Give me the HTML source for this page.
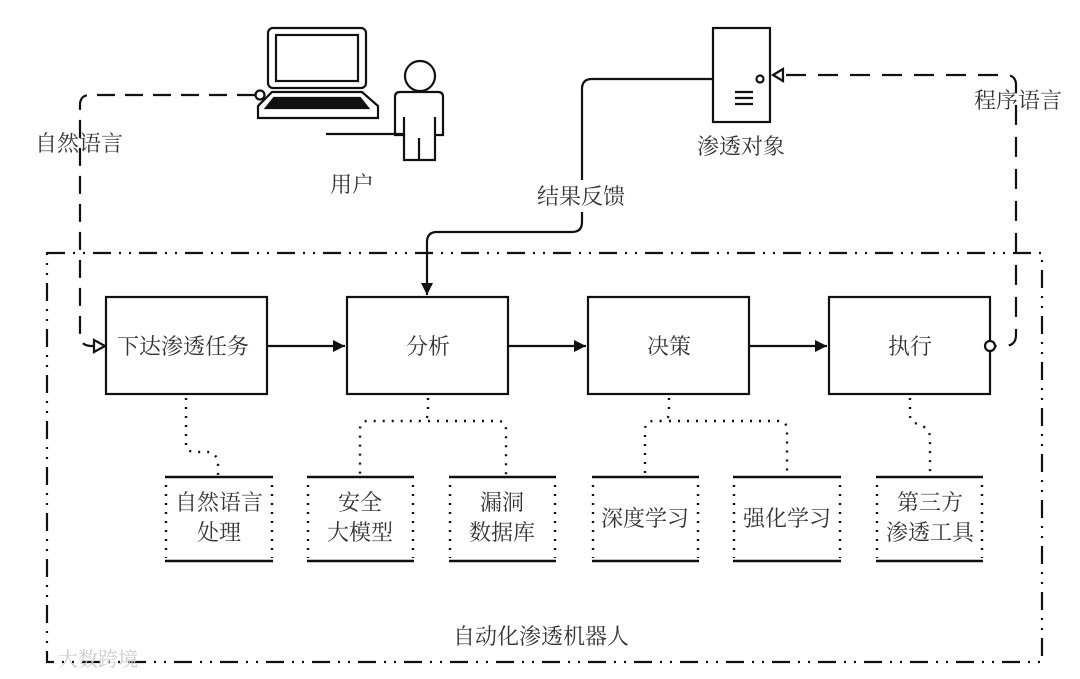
<!DOCTYPE html>
<html><head><meta charset="utf-8"><style>
html,body{margin:0;padding:0;background:#fff;}
svg{display:block;}
text{font-family:"Liberation Serif","Noto Serif CJK SC",serif;font-size:22px;fill:#333;}
</style></head><body>
<svg width="1080" height="679" viewBox="0 0 1080 679" xmlns="http://www.w3.org/2000/svg">
<defs>
<marker id="fa" markerWidth="14" markerHeight="14" refX="12" refY="6" orient="auto" markerUnits="userSpaceOnUse"><path d="M0,0 L12,6 L0,12 Z" fill="#111"/></marker>
</defs>
<g fill="none" stroke="#111" stroke-width="2.2">
<rect x="47" y="253" width="995" height="409" stroke-dasharray="18,8,2,8,2,8"/>
<rect x="106" y="297" width="161" height="97"/>
<rect x="347" y="297" width="161" height="97"/>
<rect x="588" y="297" width="161" height="97"/>
<rect x="829" y="297" width="161" height="97"/>
<line x1="267" y1="346" x2="345" y2="346" marker-end="url(#fa)"/>
<line x1="508" y1="346" x2="586" y2="346" marker-end="url(#fa)"/>
<line x1="749" y1="346" x2="827" y2="346" marker-end="url(#fa)"/>
<g stroke-width="2.5">
<line x1="165" y1="477" x2="273" y2="477"/><line x1="165" y1="561" x2="273" y2="561"/>
<line x1="307" y1="477" x2="414" y2="477"/><line x1="307" y1="561" x2="414" y2="561"/>
<line x1="449" y1="477" x2="556" y2="477"/><line x1="449" y1="561" x2="556" y2="561"/>
<line x1="592" y1="477" x2="699" y2="477"/><line x1="592" y1="561" x2="699" y2="561"/>
<line x1="733" y1="477" x2="841" y2="477"/><line x1="733" y1="561" x2="841" y2="561"/>
<line x1="876" y1="477" x2="983" y2="477"/><line x1="876" y1="561" x2="983" y2="561"/>
</g>
<g stroke-dasharray="2,7" stroke-width="2.4">
<line x1="166" y1="485" x2="166" y2="558"/><line x1="272" y1="485" x2="272" y2="558"/>
<line x1="308" y1="485" x2="308" y2="558"/><line x1="413" y1="485" x2="413" y2="558"/>
<line x1="450" y1="485" x2="450" y2="558"/><line x1="555" y1="485" x2="555" y2="558"/>
<line x1="593" y1="485" x2="593" y2="558"/><line x1="698" y1="485" x2="698" y2="558"/>
<line x1="734" y1="485" x2="734" y2="558"/><line x1="840" y1="485" x2="840" y2="558"/>
<line x1="877" y1="485" x2="877" y2="558"/><line x1="982" y1="485" x2="982" y2="558"/>
<path d="M186,398 L186,445 Q186,452 196,452 L210,452 Q218,455 218,465 L218,476"/>
<path d="M428,398 L428,412 Q428,421 420,421 L368,421 Q360,421 360,430 L360,476"/>
<path d="M428,421 L498,421 Q506,421 506,430 L506,476"/>
<path d="M669,398 L669,412 Q669,421 660,421 L654,421 Q645,421 645,430 L645,476"/>
<path d="M669,421 L778,421 Q787,421 787,430 L787,476"/>
<path d="M910,398 L910,415 Q910,422 918,424 Q930,428 930,438 L930,476"/>
</g>
<rect x="268" y="28" width="98" height="60" rx="5"/>
<rect x="276" y="35" width="82" height="46"/>
<path d="M272,92 L362,92 L378,106 L378,118 L258,118 L258,106 Z"/>
<path d="M274,98 L360,98 L368,108 L266,108 Z" fill="#111"/>
<circle cx="260" cy="95" r="4.5" fill="#fff"/>
<circle cx="420" cy="76" r="15"/>
<path d="M400,92 L438,92 Q443,92 443,97 L443,135 L435,135 L435,160 L404,160 L404,135 L395,135 L395,97 Q395,92 400,92 Z"/>
<line x1="404" y1="117" x2="404" y2="135"/><line x1="435" y1="117" x2="435" y2="135"/>
<line x1="419" y1="138" x2="419" y2="160"/>
<line x1="326" y1="134" x2="404" y2="134"/>
<rect x="713" y="28" width="57" height="94"/>
<circle cx="760" cy="79" r="3.5"/>
<line x1="735" y1="92" x2="753" y2="92"/><line x1="735" y1="98" x2="753" y2="98"/><line x1="735" y1="104" x2="753" y2="104"/>
<path d="M783,69 L773,75 L783,81 Z" fill="#fff"/>
<path d="M713,79 L592,79 Q582,79 582,89 L582,180"/>
<path d="M582,212 L582,222 Q582,232 572,232 L437,232 Q427,232 427,242 L427,295" marker-end="url(#fa)"/>
<path d="M255,95 L90,95 Q80,95 80,105 L80,335 Q80,346 92,346 L96,346" stroke-dasharray="18,10"/>
<path d="M94,340 L105,346 L94,352 Z" fill="#fff"/>
<path d="M786,75 L1006,75 Q1016,75 1016,85 L1016,335 Q1016,346 1004,346 L996,346" stroke-dasharray="20,12"/>
<circle cx="990" cy="346" r="5" fill="#fff"/>
</g>
<text x="35" y="151">自然语言</text>
<text x="330" y="192">用户</text>
<text x="697" y="154">渗透对象</text>
<text x="974" y="108">程序语言</text>
<text x="537" y="204">结果反馈</text>
<text x="117" y="354">下达渗透任务</text>
<text x="406" y="354">分析</text>
<text x="647" y="354">决策</text>
<text x="888" y="354">执行</text>
<text x="219" y="510" text-anchor="middle">自然语言</text>
<text x="219" y="540" text-anchor="middle">处理</text>
<text x="360" y="510" text-anchor="middle">安全</text>
<text x="360" y="540" text-anchor="middle">大模型</text>
<text x="502" y="510" text-anchor="middle">漏洞</text>
<text x="502" y="540" text-anchor="middle">数据库</text>
<text x="645" y="526" text-anchor="middle">深度学习</text>
<text x="787" y="526" text-anchor="middle">强化学习</text>
<text x="930" y="510" text-anchor="middle">第三方</text>
<text x="930" y="540" text-anchor="middle">渗透工具</text>
<text x="453" y="644">自动化渗透机器人</text>
<text x="58" y="666" style="fill:#ccc;font-size:20px">大数跨境</text>
</svg>
</body></html>
